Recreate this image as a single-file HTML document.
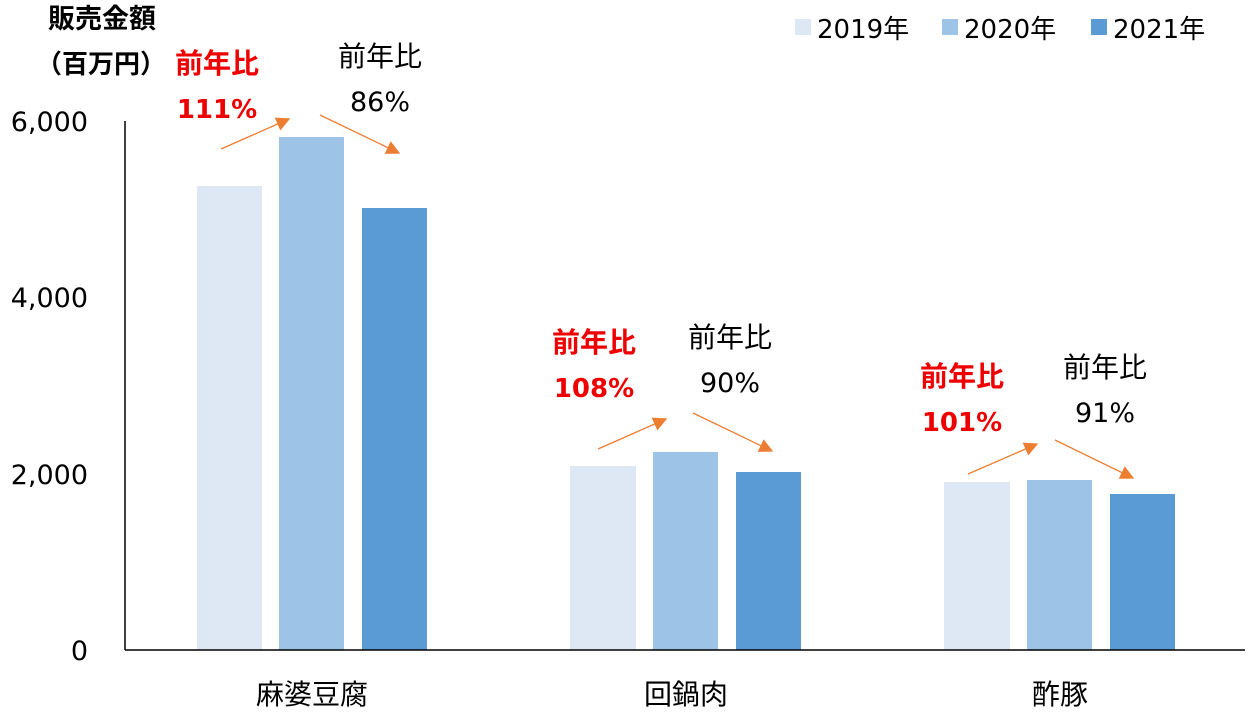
<!DOCTYPE html>
<html><head><meta charset="utf-8"><style>
body{margin:0;background:#fff;}
svg text{font-family:"DejaVu Sans","Noto Sans CJK JP",sans-serif;}
</style></head><body>
<svg width="1251" height="711" viewBox="0 0 1251 711" xmlns="http://www.w3.org/2000/svg">
<defs><marker id="b" viewBox="0 0 10 10" refX="9" refY="5" markerWidth="14" markerHeight="14" markerUnits="userSpaceOnUse" orient="auto"><path d="M0,0L10,5L0,10z" fill="#ed7d31"/></marker></defs>
<g fill="#dee8f4"><rect x="197" y="186" width="65" height="464"/><rect x="570" y="466" width="66" height="184"/><rect x="944" y="482" width="66" height="168"/></g>
<g fill="#9dc3e6"><rect x="279" y="137" width="65" height="513"/><rect x="653" y="452" width="65" height="198"/><rect x="1027" y="480" width="65" height="170"/></g>
<g fill="#5b9bd5"><rect x="362" y="208" width="65" height="442"/><rect x="736" y="472" width="65" height="178"/><rect x="1110" y="494" width="65" height="156"/></g>
<line x1="125" y1="121" x2="125" y2="650" stroke="#000" stroke-width="1.5"/>
<line x1="125" y1="650" x2="1245" y2="650" stroke="#000" stroke-width="1.5"/>
<g font-size="27" text-anchor="end" fill="#000"><text x="88" y="131">6,000</text><text x="88" y="307">4,000</text><text x="88" y="484">2,000</text><text x="88" y="660">0</text></g>
<g font-size="28" text-anchor="middle"><text x="312" y="704">麻婆豆腐</text><text x="686" y="704">回鍋肉</text><text x="1060" y="704">酢豚</text></g>
<text x="48" y="28" font-size="27" font-weight="bold">販売金額</text>
<text x="36" y="73" font-size="26" font-weight="bold">（百万円）</text>
<g font-weight="bold" fill="#e00" text-anchor="middle">
<text x="217" y="73" font-size="28">前年比</text><text x="217" y="118" font-size="26">111%</text>
<text x="594" y="352" font-size="28">前年比</text><text x="594" y="397" font-size="26">108%</text>
<text x="962" y="386" font-size="28">前年比</text><text x="962" y="431" font-size="26">101%</text></g>
<g text-anchor="middle">
<text x="380" y="66" font-size="28">前年比</text><text x="380" y="111" font-size="27">86%</text>
<text x="730" y="347" font-size="28">前年比</text><text x="730" y="392" font-size="27">90%</text>
<text x="1105" y="377" font-size="28">前年比</text><text x="1105" y="422" font-size="27">91%</text></g>
<g stroke="#ed7d31" stroke-width="1.3" marker-end="url(#b)">
<line x1="221" y1="149" x2="289" y2="119"/><line x1="320" y1="115" x2="399" y2="153"/>
<line x1="598" y1="449" x2="666" y2="419"/><line x1="693" y1="413" x2="772" y2="451"/>
<line x1="968" y1="474" x2="1037" y2="444"/><line x1="1055" y1="440" x2="1133" y2="478"/></g>
<rect x="795" y="19" width="16" height="16" fill="#dee8f4"/><text x="817" y="38" font-size="26">2019年</text>
<rect x="942" y="19" width="16" height="16" fill="#9dc3e6"/><text x="964" y="38" font-size="26">2020年</text>
<rect x="1091" y="19" width="16" height="16" fill="#5b9bd5"/><text x="1113" y="38" font-size="26">2021年</text>
</svg>
</body></html>
